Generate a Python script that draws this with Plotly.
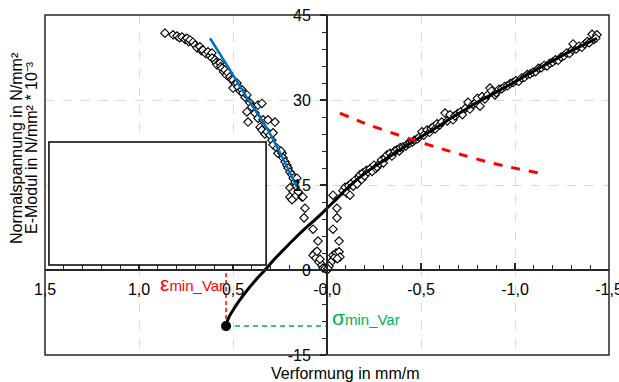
import plotly.graph_objects as go

# ---------------- data ----------------
# measured points, tension branch (stress vs strain)
tens_x = [-0.085,-0.096,-0.105,-0.115,-0.122,-0.13,-0.14,-0.15,-0.16,-0.17,-0.176,-0.185,-0.19,-0.2,-0.21,-0.218,
          -0.23,-0.24,-0.25,-0.26,-0.266,-0.28,-0.29,-0.3,-0.31,-0.319,-0.335,-0.345,-0.36,-0.372,-0.385,-0.39,
          -0.404,-0.42,-0.43,-0.441,-0.455,-0.465,-0.479,-0.49,-0.505,-0.515,-0.532,-0.545,-0.555,-0.564,-0.575,
          -0.585,-0.6,-0.61,-0.628,-0.64,-0.654,-0.67,-0.68,-0.695,-0.71,-0.72,-0.735,-0.75,-0.76,-0.777,-0.79,
          -0.8,-0.814,-0.825,-0.84,-0.855,-0.867,-0.875,-0.894,-0.9,-0.915,-0.93,-0.945,-0.96,-0.975,-0.99,-1.005,
          -1.02,-1.035,-1.05,-1.065,-1.08,-1.095,-1.11,-1.125,-1.14,-1.155,-1.17,-1.185,-1.2,-1.215,-1.23,-1.245,
          -1.26,-1.275,-1.29,-1.305,-1.309,-1.325,-1.34,-1.355,-1.37,-1.385,-1.395,-1.41,-1.42,-1.436,-1.43]
tens_y = [14.0,14.6,13.6,14.9,13.2,15.3,14.8,15.9,15.2,16.4,16.8,16.0,17.1,16.6,17.6,17.3,
          17.9,17.4,18.5,17.9,18.2,18.8,19.4,18.9,19.8,20.3,20.6,20.1,21.0,21.2,21.0,21.6,
          21.7,21.9,22.3,22.4,22.6,22.9,23.1,23.4,24.4,23.8,24.7,24.3,25.0,25.2,24.9,
          25.8,25.6,26.1,27.7,26.3,27.4,26.5,27.2,27.6,27.9,27.4,28.5,29.6,28.4,29.2,29.5,
          30.3,28.9,30.6,30.2,30.9,32.1,31.6,30.9,31.3,31.9,32.0,32.4,32.5,32.9,33.1,33.4,
          33.3,33.9,34.0,34.5,34.6,34.9,35.0,35.6,35.7,36.1,36.0,36.5,36.7,37.1,37.0,37.6,
          37.8,38.3,38.2,38.9,39.9,39.0,39.5,39.3,39.9,40.3,40.1,41.6,40.7,41.5,40.9]

# measured points, E-modulus branch
emod_x = [0.862,0.819,0.798,0.785,0.771,0.755,0.745,0.735,0.729,0.713,0.702,0.691,0.676,0.668,0.66,0.645,
          0.633,0.622,0.612,0.612,0.596,0.59,0.585,0.569,0.565,0.559,0.55,0.543,0.535,0.527,0.516,0.508,
          0.5,0.5,0.488,0.479,0.473,0.462,0.452,0.447,0.436,0.426,0.426,0.42,0.41,0.4,0.383,0.367,0.346,
          0.367,0.356,0.346,0.34,0.33,0.319,0.314,0.303,0.293,0.287,0.287,0.277,0.266,0.261,0.239,0.234,
          0.245,0.223,0.213,0.207,0.197,0.186,0.18,0.17,0.16,0.17,0.197,0.18,0.154,0.197,0.17,0.186,0.133]
emod_y = [41.8,41.5,41.3,41.0,41.1,40.7,40.9,40.3,40.6,40.2,39.7,39.2,39.4,38.7,38.8,38.2,
          38.5,37.8,38.3,37.4,37.1,36.6,36.2,36.5,35.9,35.6,35.0,35.3,34.4,34.8,34.1,33.6,
          33.5,32.1,32.9,33.0,32.3,31.6,31.8,31.2,30.5,30.9,27.9,26.1,29.5,28.8,27.7,29.1,29.4,
          26.8,25.2,24.7,26.5,24.0,24.4,26.5,23.8,22.9,24.2,22.1,26.1,21.5,20.6,20.6,19.8,
          21.0,19.1,18.5,18.0,17.3,16.8,16.2,15.5,16.2,14.6,14.5,13.8,13.8,12.9,12.9,12.4,12.9]

# measured points near origin
orig_x = [0.128,0.117,0.122,0.074,0.048,0.064,0.074,0.059,0.043,0.027,0.021,0.0,0.01,0.053,0.037,
          -0.032,-0.053,-0.053,-0.032,-0.064,-0.032,-0.048,-0.064,-0.037,-0.021,-0.011,-0.069,-0.055,-0.005]
orig_y = [12.9,10.9,9.2,7.2,5.1,3.0,2.6,2.1,1.4,0.9,0.35,0.0,0.3,3.3,1.9,
          13.2,10.9,9.2,7.2,5.1,2.6,3.0,3.2,2.1,1.4,0.7,2.3,2.0,0.2]

# fitted stress-strain curve (black)
fit_x = [0.537,0.53,0.52,0.5,0.47,0.43,0.38,0.33,0.28,0.23,0.18,0.13,0.08,0.03,0.0,-0.05,-0.1,-0.15,-0.2,
         -0.25,-0.3,-0.35,-0.4,-0.45,-0.5,-0.55,-0.6,-0.65,-0.7,-0.75,-0.8,-0.85,-0.9,-0.95,-1.0,-1.05,-1.1,
         -1.15,-1.2,-1.25,-1.3,-1.35,-1.4,-1.436]
fit_y = [-9.9,-9.0,-8.2,-7.1,-5.6,-3.8,-1.8,0.0,1.9,3.6,5.3,6.9,8.4,9.9,10.9,12.5,14.2,15.7,17.0,
         18.2,19.3,20.4,21.5,22.5,23.5,24.5,25.5,26.6,27.6,28.6,29.6,30.5,31.4,32.3,33.2,34.2,35.1,
         36.0,36.9,37.8,38.7,39.5,40.3,40.9]

# E-modulus fit (blue)
efit_x = [0.622,0.52,0.41,0.33,0.25,0.16]
efit_y = [40.9,35.5,29.6,25.6,20.7,14.6]

# E-modulus tension (red dashed)
et_x = [-0.069,-0.2,-0.39,-0.55,-0.7,-0.9,-1.13]
et_y = [27.7,25.9,23.7,22.0,20.5,18.7,17.1]

# minimum point
eps_min = 0.537
sig_min = -9.9

# axis ticks
x_ticks = [1.5, 1.0, 0.5, 0.0, -0.5, -1.0, -1.5]
x_ticklabels = ["1,5", "1,0", "0,5", "-0,0", "-0,5", "-1,0", "-1,5"]
y_ticks = [-15, 0, 15, 30, 45]
y_ticklabels = ["-15", "0", "15", "30", "45"]

# ---------------- figure ----------------
RED = "#ff0000"
GREEN = "#00b050"
BLUE = "#0070c0"
AX = "#262626"

fig = go.Figure()
mk = dict(symbol="diamond", size=6.5, color="white", line=dict(color="black", width=1.1))
for xs, ys in [(tens_x, tens_y), (emod_x, emod_y), (orig_x, orig_y)]:
    fig.add_trace(go.Scatter(x=xs, y=ys, mode="markers", marker=mk, hoverinfo="skip"))

fig.add_trace(go.Scatter(x=fit_x, y=fit_y, mode="lines", line=dict(color="black", width=3, shape="spline")))
fig.add_trace(go.Scatter(x=efit_x, y=efit_y, mode="lines", line=dict(color=BLUE, width=2.5, shape="spline")))
fig.add_trace(go.Scatter(x=et_x, y=et_y, mode="lines", line=dict(color=RED, width=3, dash="dash", shape="spline")))
fig.add_trace(go.Scatter(x=[eps_min, eps_min], y=[sig_min, 0], mode="lines",
                         line=dict(color=RED, width=1.5, dash="4px,3px")))
fig.add_trace(go.Scatter(x=[eps_min, 0], y=[sig_min, sig_min], mode="lines",
                         line=dict(color=GREEN, width=1.5, dash="5px,4px")))
fig.add_trace(go.Scatter(x=[eps_min], y=[sig_min], mode="markers",
                         marker=dict(color="black", size=10)))

fig.update_layout(
    width=619, height=382,
    margin=dict(l=45, r=10, t=15, b=27, autoexpand=False),
    plot_bgcolor="white", paper_bgcolor="white",
    showlegend=False,
    font=dict(family="Arial, Liberation Sans, sans-serif", size=16, color="black"),
)

fig.update_xaxes(
    range=[1.5, -1.5], anchor="free", position=0.25, automargin=False,
    showline=True, linecolor=AX, linewidth=2, zeroline=False,
    tickmode="array", tickvals=x_ticks, ticktext=x_ticklabels,
    ticks="inside", ticklen=6, tickwidth=1.5, tickcolor=AX,
    ticklabelstandoff=5, ticklabeloverflow="allow",
    minor=dict(tickmode="linear", tick0=0, dtick=0.1, ticks="inside", ticklen=4,
               tickwidth=1, tickcolor=AX, showgrid=False),
    showgrid=True, gridcolor="#d9d9d9", griddash="dash", gridwidth=1,
)
fig.update_yaxes(
    range=[-15, 45], anchor="free", position=0.5, side="left", automargin=False,
    showline=True, linecolor=AX, linewidth=2, zeroline=False,
    tickmode="array", tickvals=y_ticks, ticktext=y_ticklabels,
    ticks="outside", ticklen=6, tickwidth=1.5, tickcolor=AX,
    ticklabelstandoff=6, ticklabeloverflow="allow",
    minor=dict(tickmode="linear", tick0=0, dtick=3, ticks="outside", ticklen=4,
               tickwidth=1, tickcolor=AX, showgrid=False),
    showgrid=True, gridcolor="#d9d9d9", griddash="dash", gridwidth=1,
)

# frame and empty legend box
fig.add_shape(type="rect", xref="paper", yref="paper", x0=0, x1=1, y0=0, y1=1,
              line=dict(color=AX, width=1.5), layer="above")
fig.add_shape(type="rect", xref="x", yref="y", x0=1.479, x1=0.324, y0=0.88, y1=22.6,
              line=dict(color="black", width=1.5), fillcolor="white", layer="above")

# labels
fig.add_annotation(x=0.718, y=-2.3, xref="x", yref="y", showarrow=False,
                   xanchor="center", yanchor="middle",
                   text="<span style='font-size:21px'>ε</span>min_Var",
                   font=dict(size=15, color=RED))
fig.add_annotation(x=-0.015, y=-8.3, xref="x", yref="y", xanchor="left", yanchor="middle",
                   showarrow=False,
                   text="<span style='font-size:21px'>σ</span>min_Var",
                   font=dict(size=15, color=GREEN))
fig.add_annotation(x=0.532, y=-0.053, xref="paper", yref="paper", showarrow=False,
                   xanchor="center", yanchor="middle",
                   text="Verformung in mm/m", font=dict(size=16))
fig.add_annotation(x=-0.0496, y=0.609, xref="paper", yref="paper", showarrow=False,
                   xanchor="center", yanchor="middle",
                   text="Normalspannung in N/mm²", textangle=-90, font=dict(size=16))
fig.add_annotation(x=-0.023, y=0.609, xref="paper", yref="paper", showarrow=False,
                   xanchor="center", yanchor="middle",
                   text="E-Modul in N/mm² * 10⁻³", textangle=-90, font=dict(size=16))

fig.write_html("out.html")
